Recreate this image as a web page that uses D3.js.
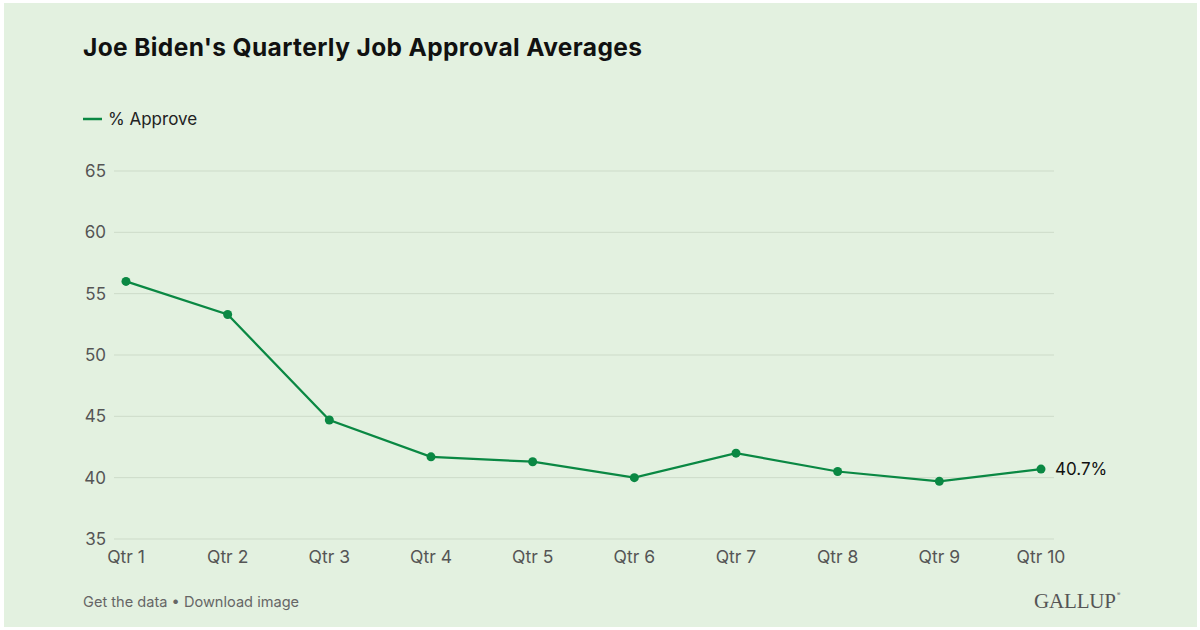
<!DOCTYPE html>
<html>
<head>
<meta charset="utf-8">
<script src="https://cdn.jsdelivr.net/npm/d3@7"></script>
<style>
  body { margin: 0; background: #ffffff; }
  svg { display: block; font-family: Inter, "Noto Sans", sans-serif; }
</style>
</head>
<body>
<svg id="chart" width="1200" height="630"></svg>
<script>
// quarterly averages, % approve
var quarters = ["Qtr 1", "Qtr 2", "Qtr 3", "Qtr 4", "Qtr 5", "Qtr 6", "Qtr 7", "Qtr 8", "Qtr 9", "Qtr 10"];
var approve = [56.0, 53.3, 44.7, 41.7, 41.3, 40.0, 42.0, 40.5, 39.7, 40.7];
var yTicks = [35, 40, 45, 50, 55, 60, 65];

var svg = d3.select("#chart");
var green = "#0a8843";

// panel
svg.append("rect")
    .attr("x", 4).attr("y", 3)
    .attr("width", 1193).attr("height", 624)
    .attr("fill", "#e3f1e0");

svg.append("text")
    .attr("x", 83).attr("y", 56)
    .attr("font-size", 24.5).attr("font-weight", 700)
    .attr("textLength", 559)
    .attr("fill", "#111")
    .text("Joe Biden's Quarterly Job Approval Averages");

// legend
svg.append("line")
    .attr("x1", 83).attr("x2", 102)
    .attr("y1", 119).attr("y2", 119)
    .attr("stroke", green).attr("stroke-width", 2.5);
svg.append("text")
    .attr("x", 108).attr("y", 125)
    .attr("font-size", 17).attr("fill", "#222")
    .text("% Approve");

var x = d3.scalePoint().domain(quarters).range([126, 1041]);
var y = d3.scaleLinear().domain([35, 65]).range([539, 171]);

// gridlines
svg.append("g").selectAll("line")
    .data(yTicks)
    .enter().append("line")
    .attr("x1", 114).attr("x2", 1054)
    .attr("y1", function(d) { return y(d); })
    .attr("y2", function(d) { return y(d); })
    .attr("stroke", "#cddbc9").attr("stroke-width", 1);

// y labels
svg.append("g").selectAll("text")
    .data(yTicks)
    .enter().append("text")
    .attr("x", 106)
    .attr("y", function(d) { return y(d); })
    .attr("dy", "0.35em")
    .attr("text-anchor", "end")
    .attr("font-size", 17).attr("fill", "#555")
    .text(function(d) { return d; });

// x labels
svg.append("g").selectAll("text")
    .data(quarters)
    .enter().append("text")
    .attr("x", function(d) { return x(d); })
    .attr("y", 563)
    .attr("text-anchor", "middle")
    .attr("font-size", 17.5).attr("fill", "#555")
    .text(function(d) { return d; });

var line = d3.line()
    .x(function(d, i) { return x(quarters[i]); })
    .y(function(d) { return y(d); });

svg.append("path")
    .datum(approve)
    .attr("d", line)
    .attr("fill", "none")
    .attr("stroke", green).attr("stroke-width", 2.2);

svg.append("g").selectAll("circle")
    .data(approve)
    .enter().append("circle")
    .attr("cx", function(d, i) { return x(quarters[i]); })
    .attr("cy", function(d) { return y(d); })
    .attr("r", 4.5)
    .attr("fill", green);

// end label
var last = approve.length - 1;
svg.append("text")
    .attr("x", x(quarters[last]) + 14)
    .attr("y", y(approve[last]))
    .attr("dy", "0.35em")
    .attr("font-size", 17).attr("fill", "#111")
    .text(approve[last].toFixed(1) + "%");

// footer
svg.append("text")
    .attr("x", 83).attr("y", 607)
    .attr("font-size", 14.6).attr("fill", "#666")
    .text("Get the data \u2022 Download image");

svg.append("text")
    .attr("x", 1034).attr("y", 608)
    .attr("font-family", "'Liberation Serif', 'DejaVu Serif', serif")
    .attr("font-size", 21)
    .attr("textLength", 82)
    .attr("fill", "#555")
    .text("GALLUP");
svg.append("text")
    .attr("x", 1117).attr("y", 596)
    .attr("font-size", 5).attr("fill", "#555")
    .text("\u00ae");
</script>
</body>
</html>
